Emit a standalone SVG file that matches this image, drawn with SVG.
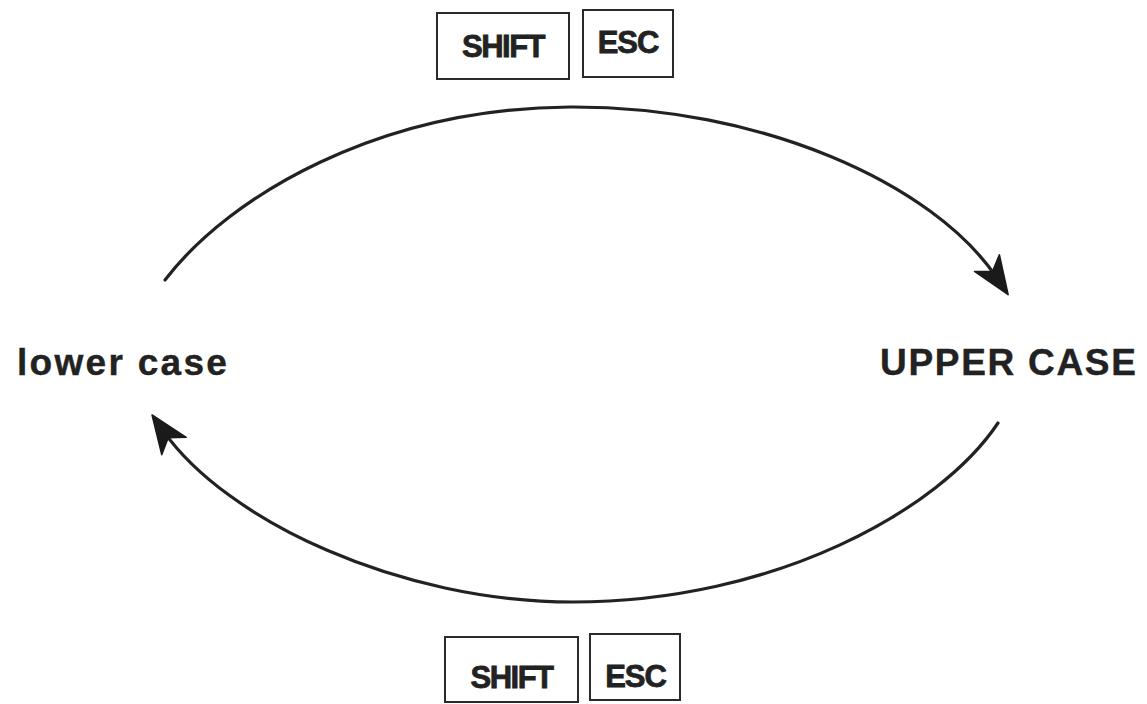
<svg xmlns="http://www.w3.org/2000/svg" width="1147" height="704" viewBox="0 0 1147 704">
  <style>
    .key { fill: #fff; stroke: #2a2a2a; stroke-width: 2; }
    .keytxt { font-family: "Liberation Sans", Arial, sans-serif; font-weight: bold; font-size: 31px; fill: #222; stroke: #222; stroke-width: 0.8; text-anchor: middle; }
    .label { font-family: "Liberation Sans", Arial, sans-serif; font-weight: bold; font-size: 37px; fill: #222; stroke: #222; stroke-width: 0.4; }
    .arc { fill: none; stroke: #222; stroke-width: 3.2; stroke-linecap: round; }
  </style>
  <defs>
    <marker id="head" markerUnits="userSpaceOnUse" viewBox="-20 -17 42 34" refX="0" refY="0" markerWidth="42" markerHeight="34" orient="auto" overflow="visible">
      <path d="M20,0 L-18,-15 L-8,0 L-18,15 Z" fill="#1a1a1a" stroke="#1a1a1a" stroke-width="1.5" stroke-linejoin="round"/>
    </marker>
  </defs>
  <rect width="1147" height="704" fill="#fff"/>

  <g id="connectors">
    <path id="to-upper" class="arc" d="M165,280 C230,195 380,108 570,107 C760,106 933,183 997,278" marker-end="url(#head)"/>
    <path id="to-lower" class="arc" d="M998,423 C940,510 775,602 573,602 C400,602 227,521 163.6,431.3" marker-end="url(#head)"/>
  </g>

  <g id="node-lower">
    <text class="label" x="17" y="375" letter-spacing="2.3">lower case</text>
  </g>
  <g id="node-upper">
    <text class="label" x="880" y="375" letter-spacing="1.7">UPPER CASE</text>
  </g>

  <g id="key-shift-top">
    <rect class="key" x="437" y="13" width="132" height="66"/>
    <text class="keytxt" x="503" y="57" letter-spacing="-1.5">SHIFT</text>
  </g>
  <g id="key-esc-top">
    <rect class="key" x="583" y="10" width="90" height="67"/>
    <text class="keytxt" x="628" y="53" letter-spacing="-1">ESC</text>
  </g>
  <g id="key-shift-bottom">
    <rect class="key" x="445" y="637" width="133" height="65"/>
    <text class="keytxt" x="511.5" y="688" letter-spacing="-1.5">SHIFT</text>
  </g>
  <g id="key-esc-bottom">
    <rect class="key" x="590" y="634" width="90" height="66"/>
    <text class="keytxt" x="635.5" y="687" letter-spacing="-1">ESC</text>
  </g>
</svg>
